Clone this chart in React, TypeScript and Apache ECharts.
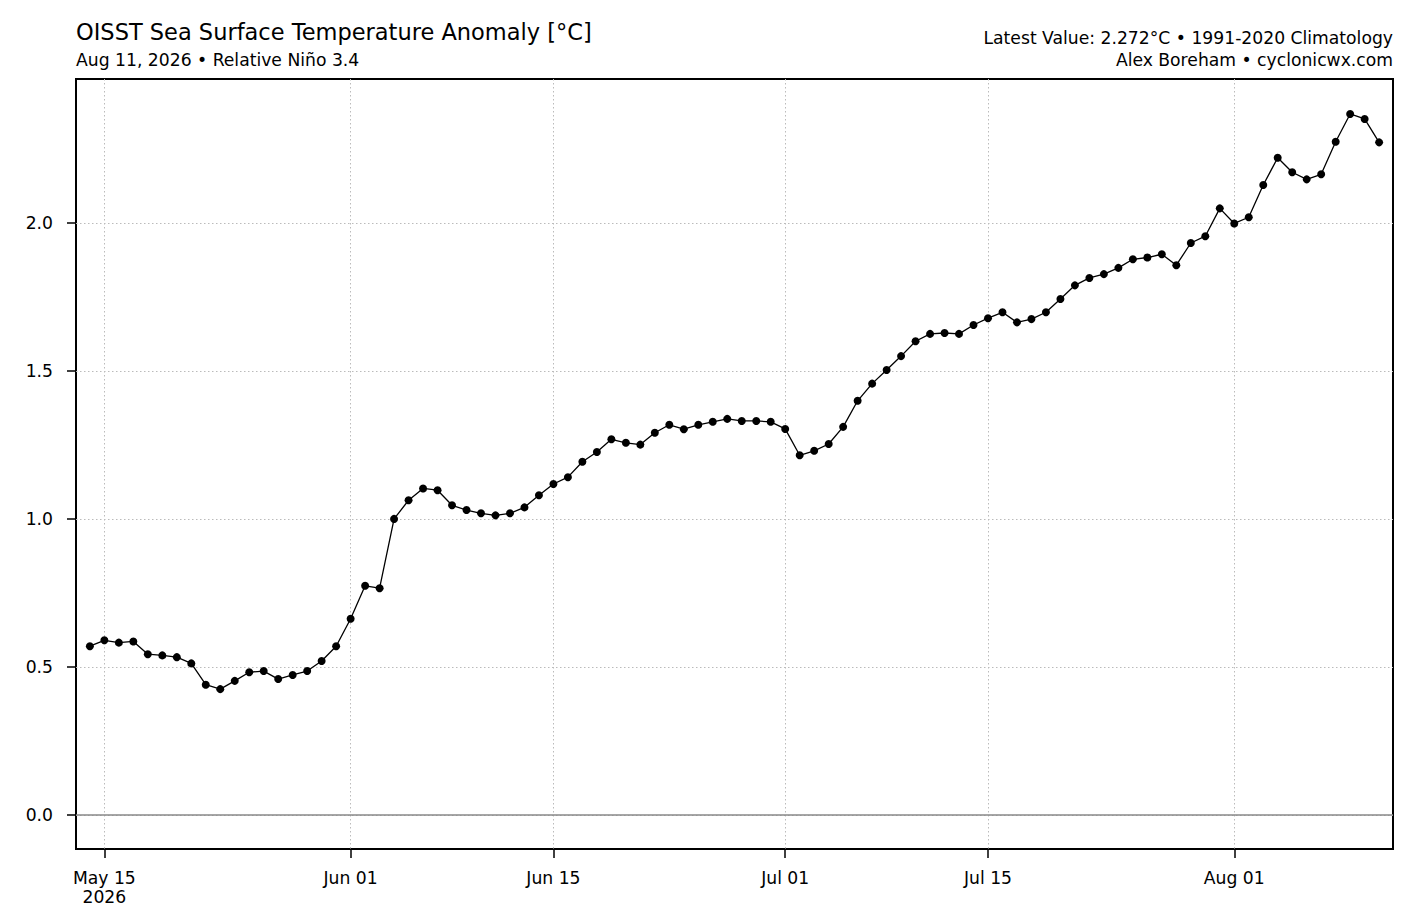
import React, { useEffect, useRef } from "react";
import * as echarts from "echarts";

// ---- Data ----
const START_DATE = "2026-05-14"; // first daily value
const anomalies = [
  0.570, 0.590, 0.582, 0.586, 0.543, 0.539, 0.533, 0.512, 0.440, 0.425,
  0.453, 0.482, 0.486, 0.459, 0.473, 0.486, 0.520, 0.570, 0.663, 0.774,
  0.766, 1.000, 1.063, 1.103, 1.097, 1.046, 1.030, 1.019, 1.012, 1.019,
  1.039, 1.080, 1.118, 1.141, 1.193, 1.226, 1.269, 1.257, 1.251, 1.291,
  1.318, 1.303, 1.318, 1.328, 1.338, 1.331, 1.331, 1.328, 1.304, 1.215,
  1.230, 1.253, 1.311, 1.399, 1.457, 1.503, 1.550, 1.600, 1.625, 1.628,
  1.625, 1.655, 1.678, 1.698, 1.664, 1.675, 1.698, 1.743, 1.789, 1.814,
  1.827, 1.848, 1.877, 1.883, 1.894, 1.857, 1.932, 1.955, 2.049, 1.998,
  2.019, 2.128, 2.220, 2.171, 2.147, 2.164, 2.274, 2.368, 2.351, 2.272,
];
const xTickDates = ["2026-05-15", "2026-06-01", "2026-06-15", "2026-07-01", "2026-07-15", "2026-08-01"];
const xTickLabels = ["May 15\n2026", "Jun 01", "Jun 15", "Jul 01", "Jul 15", "Aug 01"];
const yTicks = [0, 0.5, 1.0, 1.5, 2.0];
const X_MIN = "2026-05-13T01:00:00Z";
const X_MAX = "2026-08-11T23:00:00Z";
const Y_MIN = -0.115;
const Y_MAX = 2.486;

const TITLE = "OISST Sea Surface Temperature Anomaly [°C]";
const SUBTITLE = "Aug 11, 2026 • Relative Niño 3.4";
const RIGHT_LINE1 = "Latest Value: 2.272°C • 1991-2020 Climatology";
const RIGHT_LINE2 = "Alex Boreham • cyclonicwx.com";

const DAY = 86400000;
const FONT = '"DejaVu Sans", "Liberation Sans", sans-serif';
const FS = 17.2;

export default function App() {
  const ref = useRef<HTMLDivElement>(null);

  useEffect(() => {
    if (!ref.current) return;
    const chart = echarts.init(ref.current, undefined, { renderer: "svg" });
    const startMs = Date.parse(START_DATE);
    const seriesData = anomalies.map((v, i) => [startMs + i * DAY, v]);
    const tickMs = xTickDates.map((d) => Date.parse(d));

    const txt = (x: number, y: number, text: string, size: number, align: string) => ({
      type: "text",
      x,
      y,
      silent: true,
      style: {
        text,
        font: `${size}px ${FONT}`,
        fill: "#000",
        align,
        verticalAlign: "middle",
        textAlign: align,
        textVerticalAlign: "middle",
      },
    });

    chart.setOption({
      animation: false,
      backgroundColor: "#fff",
      textStyle: { fontFamily: FONT },
      grid: {
        left: 76,
        top: 79,
        right: 24,
        bottom: 67,
        show: true,
        borderColor: "#000",
        borderWidth: 2,
        backgroundColor: "transparent",
        containLabel: false,
      },
      graphic: [
        txt(76, 31.5, TITLE, 22.5, "left"),
        txt(76, 60, SUBTITLE, FS, "left"),
        txt(1393, 38, RIGHT_LINE1, FS, "right"),
        txt(1393, 60, RIGHT_LINE2, FS, "right"),
      ],
      xAxis: {
        type: "value",
        min: Date.parse(X_MIN),
        max: Date.parse(X_MAX),
        axisLine: { show: false, onZero: false },
        axisTick: {
          show: true,
          inside: false,
          length: 9,
          customValues: tickMs,
          lineStyle: { color: "#000", width: 1.5 },
        },
        axisLabel: {
          customValues: tickMs,
          margin: 19,
          fontSize: FS,
          lineHeight: 19,
          color: "#000",
          fontFamily: FONT,
          align: "center",
          formatter: (val: number) => {
            const idx = tickMs.indexOf(val);
            return idx >= 0 ? xTickLabels[idx] : "";
          },
        },
        splitLine: {
          show: true,
          lineStyle: { color: "#bbbbbb", width: 1, type: [1.5, 2.5] },
        },
      },
      yAxis: {
        type: "value",
        min: Y_MIN,
        max: Y_MAX,
        axisLine: { show: false, onZero: false },
        axisTick: {
          show: true,
          inside: false,
          length: 9,
          customValues: yTicks,
          lineStyle: { color: "#000", width: 1.5 },
        },
        axisLabel: {
          customValues: yTicks,
          margin: 23,
          fontSize: FS,
          color: "#000",
          fontFamily: FONT,
          formatter: (val: number) => val.toFixed(1),
        },
        splitLine: {
          show: true,
          lineStyle: { color: "#bbbbbb", width: 1, type: [1.5, 2.5] },
        },
      },
      series: [
        {
          type: "line",
          data: seriesData,
          symbol: "circle",
          symbolSize: 8,
          showSymbol: true,
          lineStyle: { color: "#000", width: 1.3 },
          itemStyle: { color: "#000" },
          z: 3,
          markLine: {
            silent: true,
            symbol: "none",
            label: { show: false },
            lineStyle: { color: "#888", width: 1.5, type: "solid" },
            data: [{ yAxis: 0 }],
          },
        },
      ],
    });

    return () => chart.dispose();
  }, []);

  return (
    <div
      ref={ref}
      style={{ position: "absolute", left: 0, top: 0, width: 1417, height: 916 }}
    />
  );
}
